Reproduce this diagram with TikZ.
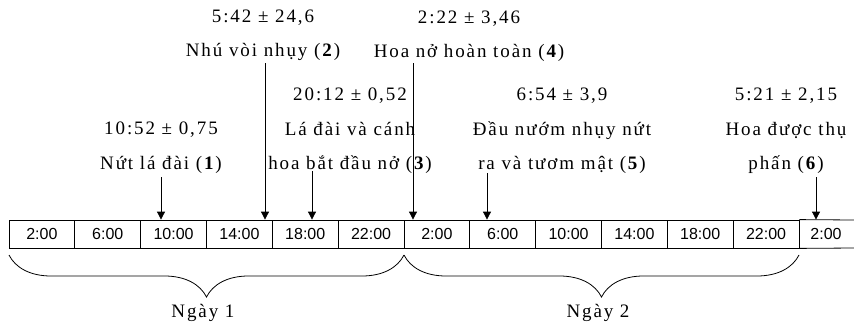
\documentclass[tikz,border=0pt]{standalone}
\usepackage{fontspec}
\setmainfont{Liberation Serif}[LetterSpace=10]
\setsansfont{Liberation Sans}
\usetikzlibrary{arrows.meta,decorations.pathreplacing}

\begin{document}
\begin{tikzpicture}[x=1pt, y=-1pt,
    event/.style={align=center, inner sep=0pt, font=\fontsize{19}{34.5}\selectfont},
    cell/.style={draw, line width=0.8pt, minimum width=65.83pt, minimum height=28pt, inner sep=0pt, font=\sffamily\fontsize{16}{18}\selectfont},
    arrow/.style={-{Triangle[length=8pt,width=8pt]}, line width=0.8pt},
    brace/.style={decorate, decoration={brace, mirror, amplitude=42pt}, line width=0.8pt},
    day/.style={font=\fontsize{19}{20}\selectfont}
  ]
  \useasboundingbox (0,0) rectangle (854,324);

  \foreach \t [count=\i] in {2:00,6:00,10:00,14:00,18:00,22:00,2:00,6:00,10:00,14:00,18:00,22:00}
    \node[cell] (c\i) at ({9+65.83*(\i-0.5)},234) {\t};
  \node[cell, draw=none] (c13) at (826,234) {2:00};
  \coordinate (endtop) at (854,220);
  \coordinate (endbot) at (854,248);
  \draw[line width=0.8pt] (c12.north east) -- (endtop);
  \draw[line width=0.8pt] (c12.south east) -- (endbot);

  \node[event] (e1) at (161,147.5) {10:52 ± 0,75\\Nứt lá đài (\textbf{1})};
  \node[event] (e2) at (263,35.5)  {5:42 ± 24,6\\Nhú vòi nhụy (\textbf{2})};
  \node[event] (e3) at (350,131)   {20:12 ± 0,52\\Lá đài và cánh\\hoa bắt đầu nở (\textbf{3})};
  \node[event] (e4) at (469,36)    {2:22 ± 3,46\\Hoa nở hoàn toàn (\textbf{4})};
  \node[event] (e5) at (562,131)   {6:54 ± 3,9\\Đầu nướm nhụy nứt\\ra và tươm mật (\textbf{5})};
  \node[event] (e6) at (786,131)   {5:21 ± 2,15\\Hoa được thụ\\phấn (\textbf{6})};

  \foreach \n/\x/\y in {1/161/177, 2/265/63, 3/312/171, 4/413/63, 5/487/173, 6/816/177} {
    \coordinate (s\n) at (\x,\y);
    \draw[arrow] (s\n) -- (s\n |- c1.north);
  }

  \coordinate (b0) at (9,255);
  \coordinate (b1) at (404,255);
  \coordinate (b2) at (799,255);
  \draw[brace] (b0) -- (b1);
  \draw[brace] (b1) -- (b2);
  \node[day] (d1) at (203,313) {Ngày 1};
  \node[day] (d2) at (598,313) {Ngày 2};
\end{tikzpicture}
\end{document}
